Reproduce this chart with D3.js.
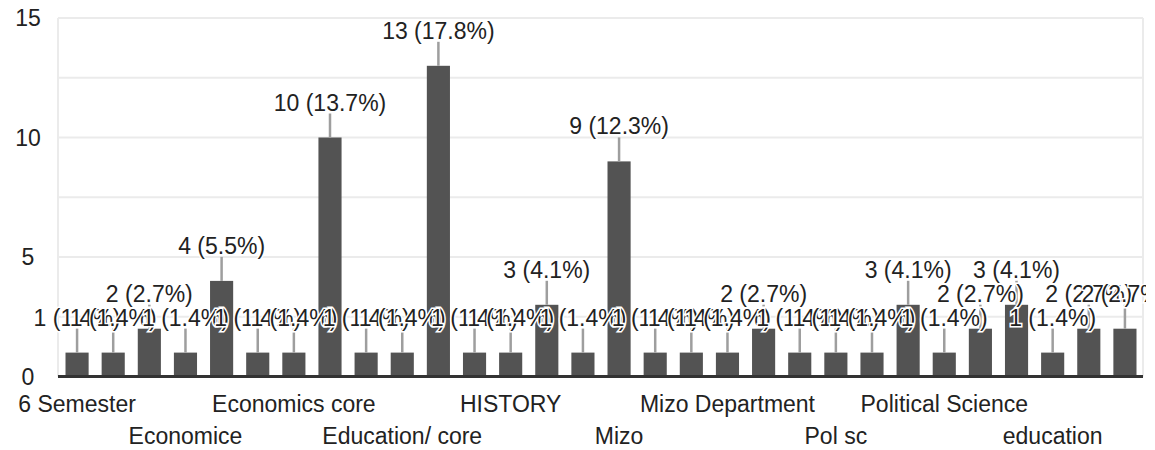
<!DOCTYPE html>
<html>
<head>
<meta charset="utf-8">
<script src="https://cdn.jsdelivr.net/npm/d3@7"></script>
<style>
  body { margin: 0; background: #fff; }
  svg text { font-family: "Liberation Sans", Arial, sans-serif; }
</style>
</head>
<body>
<main></main>
<script>
// answers, sorted the way the form shows them
const categories = [
  "6 Semester", "B.A Economics", "ECONOMICS", "Economice", "Economics",
  "Economics Core", "Economics core", "Education", "Education core", "Education/ core",
  "English", "Geography", "HISTORY", "History", "History core",
  "Mizo", "Mizo core", "Mizo Dept", "Mizo Department", "Philosophy",
  "Pol Science", "Pol sc", "Political science", "Political Sc", "Political Science",
  "Political Science core", "Public Administration", "education", "education core", "history"
];
const counts = [1, 1, 2, 1, 4, 1, 1, 10, 1, 1, 13, 1, 1, 3, 1, 9, 1, 1, 1, 2, 1, 1, 1, 3, 1, 2, 3, 1, 2, 2];
const yTicks = [0, 5, 10, 15];
const gridTicks = [0, 2.5, 5, 7.5, 10, 12.5, 15];
const total = d3.sum(counts);

const width = 1155, height = 450;
const plot = { left: 59, right: 1143, top: 18, bottom: 376.5 };

const svg = d3.select("main").append("svg")
  .attr("width", width)
  .attr("height", height);

// labels get cut at the chart's right edge, like the original
svg.append("clipPath").attr("id", "chartClip")
  .append("rect")
  .attr("x", 0).attr("y", 0)
  .attr("width", plot.right + 3).attr("height", height);

const x = d3.scaleBand()
  .domain(categories)
  .range([plot.left, plot.right])
  .paddingInner(0.36)
  .paddingOuter(0.18);

const y = d3.scaleLinear()
  .domain([0, 15])
  .range([plot.bottom, plot.top]);

// grid + frame
svg.append("g").selectAll("line")
  .data(gridTicks)
  .join("line")
  .attr("x1", plot.left - 1).attr("x2", plot.right)
  .attr("y1", d => y(d)).attr("y2", d => y(d))
  .attr("stroke", "#ebebeb")
  .attr("stroke-width", 2);

svg.append("line")
  .attr("x1", plot.left - 1).attr("x2", plot.left - 1)
  .attr("y1", y(15)).attr("y2", y(0))
  .attr("stroke", "#ebebeb").attr("stroke-width", 2);
svg.append("line")
  .attr("x1", plot.right).attr("x2", plot.right)
  .attr("y1", y(15)).attr("y2", y(0))
  .attr("stroke", "#ebebeb").attr("stroke-width", 2);

// y labels
svg.append("g").selectAll("text")
  .data(yTicks)
  .join("text")
  .attr("x", 28)
  .attr("y", d => y(d))
  .attr("dy", "0.35em")
  .attr("text-anchor", "middle")
  .attr("font-size", 23)
  .attr("fill", "#222")
  .text(d => d);

// bars
svg.append("g").selectAll("rect")
  .data(counts)
  .join("rect")
  .attr("x", (d, i) => x(categories[i]))
  .attr("width", x.bandwidth())
  .attr("y", d => y(d))
  .attr("height", d => y(0) - y(d))
  .attr("fill", "#535353");

// baseline
svg.append("line")
  .attr("x1", plot.left - 1).attr("x2", plot.right)
  .attr("y1", y(0)).attr("y2", y(0))
  .attr("stroke", "#333")
  .attr("stroke-width", 3);

// leader lines
svg.append("g").selectAll("line")
  .data(counts)
  .join("line")
  .attr("x1", (d, i) => x(categories[i]) + x.bandwidth() / 2)
  .attr("x2", (d, i) => x(categories[i]) + x.bandwidth() / 2)
  .attr("y1", d => y(d))
  .attr("y2", d => y(d) - 24)
  .attr("stroke", "#9e9e9e")
  .attr("stroke-width", 2.5);

// value labels with white halo
svg.append("g")
  .attr("clip-path", "url(#chartClip)")
  .selectAll("text")
  .data(counts)
  .join("text")
  .attr("x", (d, i) => x(categories[i]) + x.bandwidth() / 2)
  .attr("y", d => y(d) - 35)
  .attr("dy", "0.35em")
  .attr("text-anchor", "middle")
  .attr("font-size", 23)
  .attr("fill", "#222")
  .attr("stroke", "#fff")
  .attr("stroke-width", 3)
  .attr("paint-order", "stroke")
  .text(d => `${d} (${(d / total * 100).toFixed(1)}%)`);

// category labels, every third one, two staggered rows
svg.append("g").selectAll("text")
  .data(categories.filter((c, i) => i % 3 === 0))
  .join("text")
  .attr("x", d => x(d) + x.bandwidth() / 2)
  .attr("y", (d, i) => i % 2 === 0 ? 412 : 444)
  .attr("text-anchor", "middle")
  .attr("font-size", 23)
  .attr("fill", "#222")
  .text(d => d);
</script>
</body>
</html>
